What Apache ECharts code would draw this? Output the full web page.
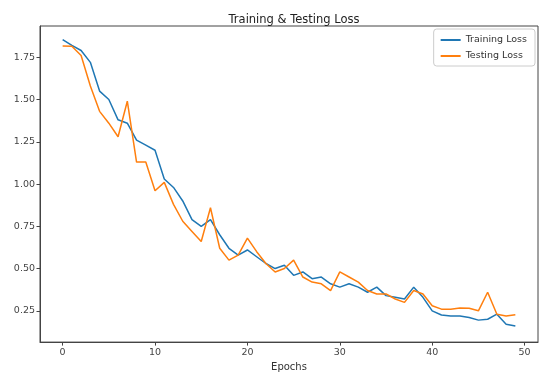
<!DOCTYPE html>
<html>
<head>
<meta charset="utf-8">
<script src="https://cdn.jsdelivr.net/npm/echarts@6/dist/echarts.min.js"></script>
<style>
html,body{margin:0;padding:0;background:#fff;}
#c{width:541px;height:377px;}
</style>
</head>
<body>
<div id="c"></div>
<script>
const epochs = Array.from({length: 50}, (_, i) => i);
const trainingLoss = [1.855,1.82,1.79,1.72,1.55,1.50,1.38,1.36,1.26,1.23,1.20,1.03,0.98,0.90,0.79,0.75,0.79,0.70,0.62,0.58,0.61,0.57,0.53,0.50,0.52,0.46,0.48,0.44,0.45,0.41,0.39,0.41,0.39,0.36,0.39,0.34,0.33,0.32,0.39,0.33,0.25,0.225,0.22,0.22,0.21,0.195,0.20,0.23,0.17,0.16];
const testingLoss = [1.816,1.815,1.76,1.58,1.43,1.36,1.28,1.49,1.13,1.13,0.96,1.01,0.88,0.78,0.72,0.66,0.86,0.62,0.55,0.58,0.68,0.60,0.53,0.48,0.50,0.55,0.45,0.42,0.41,0.37,0.48,0.45,0.42,0.37,0.35,0.35,0.32,0.30,0.37,0.35,0.28,0.26,0.26,0.267,0.265,0.25,0.36,0.23,0.22,0.227];
const xTicks = [0,10,20,30,40,50];
const yTicks = [0.25,0.50,0.75,1.00,1.25,1.50,1.75];

const chart = echarts.init(document.getElementById('c'));
const font = 'DejaVu Sans';
chart.setOption({
  animation: false,
  backgroundColor: '#fff',
  title: {
    text: 'Training & Testing Loss',
    left: 289, top: 9, textAlign: 'center',
    textStyle: {fontFamily: font, fontSize: 11.5, fontWeight: 'normal', color: '#222'}
  },
  legend: {
    right: 6, top: 29, orient: 'vertical',
    itemWidth: 20, itemHeight: 2, itemGap: 6,
    padding: [6, 8, 5, 7],
    borderColor: '#ccc', borderWidth: 1, borderRadius: 3,
    backgroundColor: '#fff',
    icon: 'rect',
    textStyle: {fontFamily: font, fontSize: 9.5, color: '#333'},
    data: ['Training Loss', 'Testing Loss']
  },
  grid: {left: 40, right: 3, top: 26, bottom: 31, show: true, borderColor: '#444', borderWidth: 1},
  xAxis: {
    type: 'value', min: -2.45, max: 51.45,
    name: 'Epochs', nameLocation: 'middle', nameGap: 18,
    nameTextStyle: {fontFamily: font, fontSize: 10, color: '#333'},
    axisLine: {show: true, onZero: false, lineStyle: {color: '#444'}},
    axisTick: {show: true, length: 3.5, customValues: xTicks, lineStyle: {color: '#444'}},
    axisLabel: {customValues: xTicks, fontFamily: font, fontSize: 9.5, color: '#444', margin: 5},
    splitLine: {show: false}
  },
  yAxis: {
    type: 'value', min: 0.065, max: 1.935,
    axisLine: {show: true, onZero: false, lineStyle: {color: '#444'}},
    axisTick: {show: true, length: 3.5, customValues: yTicks, lineStyle: {color: '#444'}},
    axisLabel: {customValues: yTicks, fontFamily: font, fontSize: 9.5, color: '#444', margin: 5,
      formatter: v => v.toFixed(2)},
    splitLine: {show: false}
  },
  series: [
    {name: 'Training Loss', type: 'line', data: epochs.map((e, i) => [e, trainingLoss[i]]),
      showSymbol: false, lineStyle: {color: '#1f77b4', width: 1.5}, itemStyle: {color: '#1f77b4'}},
    {name: 'Testing Loss', type: 'line', data: epochs.map((e, i) => [e, testingLoss[i]]),
      showSymbol: false, lineStyle: {color: '#ff7f0e', width: 1.5}, itemStyle: {color: '#ff7f0e'}}
  ]
});
</script>
</body>
</html>
